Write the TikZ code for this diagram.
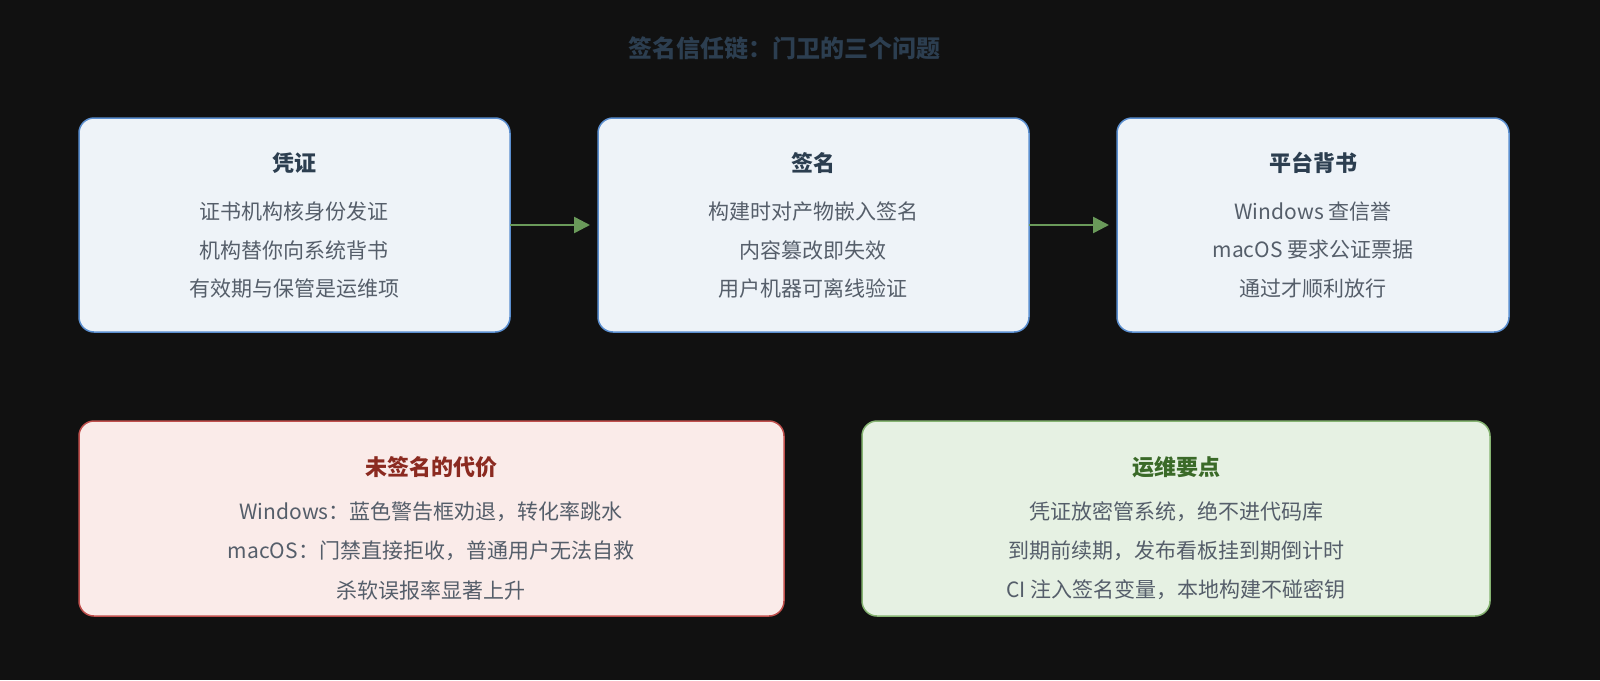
\documentclass[tikz,border=0pt]{standalone}
\usepackage{fontspec}
\setmainfont{Noto Sans CJK SC}
\usetikzlibrary{arrows.meta}
\definecolor{bg}{HTML}{111111}
\definecolor{bfill}{HTML}{EEF3F8}
\definecolor{bdraw}{HTML}{5B8FD0}
\definecolor{rfill}{HTML}{FAEBE9}
\definecolor{rdraw}{HTML}{C0504D}
\definecolor{gfill}{HTML}{E6F1E3}
\definecolor{gdraw}{HTML}{86B472}
\definecolor{ttl}{HTML}{2C3E50}
\definecolor{txt}{HTML}{555E6A}
\definecolor{arr}{HTML}{6A9A5A}
\begin{document}
\begin{tikzpicture}[x=1pt,y=-1pt,
  box/.style={rounded corners=15pt,line width=1.5pt},
  hd/.style={font=\fontsize{22}{26}\selectfont\bfseries},
  tx/.style={font=\fontsize{21}{25}\selectfont,text=txt},
  ar/.style={draw=arr,line width=2.5pt,-{Triangle[length=16pt,width=16pt]}}]
\fill[bg] (0,0) rectangle (1600,680);
\useasboundingbox (0,0) rectangle (1600,680);
\node[font=\fontsize{24}{28}\selectfont\bfseries,text=ttl] (title) at (784,48) {签名信任链：门卫的三个问题};
\draw[box,fill=bfill,draw=bdraw] (79,118) rectangle (510,332);
\draw[box,fill=bfill,draw=bdraw] (598,118) rectangle (1029,332);
\draw[box,fill=bfill,draw=bdraw] (1117,118) rectangle (1509,332);
\coordinate (b1r) at (510,225); \coordinate (b2l) at (590,225);
\coordinate (b2r) at (1029,225); \coordinate (b3l) at (1109,225);
\draw[ar] (b1r) -- (b2l);
\draw[ar] (b2r) -- (b3l);
\node[hd,text=ttl] (h1) at (294,163) {凭证};
\node[tx] (a1) at (294,212) {证书机构核身份发证};
\node[tx] (a2) at (294,250) {机构替你向系统背书};
\node[tx] (a3) at (294,289) {有效期与保管是运维项};
\node[hd,text=ttl] (h2) at (813,163) {签名};
\node[tx] (c1) at (813,212) {构建时对产物嵌入签名};
\node[tx] (c2) at (813,250) {内容篡改即失效};
\node[tx] (c3) at (813,289) {用户机器可离线验证};
\node[hd,text=ttl] (h3) at (1313,163) {平台背书};
\node[tx] (d1) at (1313,212) {Windows 查信誉};
\node[tx] (d2) at (1313,250) {macOS 要求公证票据};
\node[tx] (d3) at (1313,289) {通过才顺利放行};
\draw[box,fill=rfill,draw=rdraw] (79,421) rectangle (784,616);
\draw[box,fill=gfill,draw=gdraw] (862,421) rectangle (1490,616);
\node[hd,text={rgb,255:red,139;green,42;blue,32}] (h4) at (431,467) {未签名的代价};
\node[tx] (e1) at (431,512) {Windows：蓝色警告框劝退，转化率跳水};
\node[tx] (e2) at (431,551) {macOS：门禁直接拒收，普通用户无法自救};
\node[tx] (e3) at (431,590) {杀软误报率显著上升};
\node[hd,text={rgb,255:red,58;green,106;blue,40}] (h5) at (1176,467) {运维要点};
\node[tx] (f1) at (1176,512) {凭证放密管系统，绝不进代码库};
\node[tx] (f2) at (1176,551) {到期前续期，发布看板挂到期倒计时};
\node[tx] (f3) at (1176,590) {CI 注入签名变量，本地构建不碰密钥};
\end{tikzpicture}
\end{document}
